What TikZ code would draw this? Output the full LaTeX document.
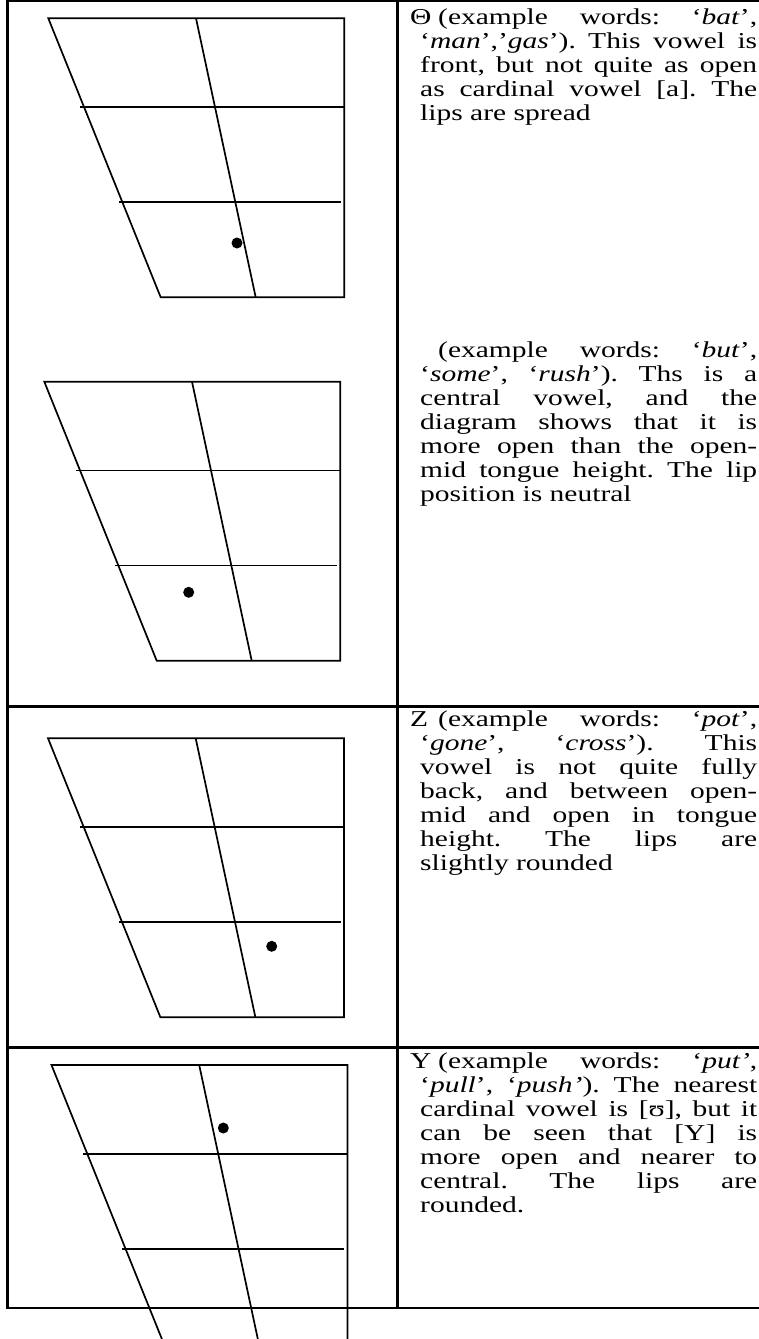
\documentclass[tikz,border=0pt]{standalone}
\usepackage{fontspec}
\setmainfont{Liberation Serif}[FakeStretch=1.3]
\frenchspacing
\newcommand\jl[1]{\makebox[337pt][s]{#1}}
\newcommand\jf[1]{\makebox[319pt][s]{#1}}
\tikzset{
  frame/.style={line width=2.6pt},
  grid/.style={line width=1.7pt},
  vdot/.style={circle, fill=black, draw=none, inner sep=0pt, minimum size=11pt},
  tl/.style={anchor=base west, inner sep=0pt, font=\fontsize{22.7}{24}\selectfont},
  quad/.pic={
    \draw[grid] (0,0) -- (296,0) -- (296,279) -- (112.4,279) -- cycle;
    \draw[grid] (147.7,0) -- (207.4,279);
    \draw[grid] (31.7,88.7) -- (296,88.7);
    \draw[grid] (70.7,183.7) -- (292.7,183.7);
  }
}
\begin{document}
\begin{tikzpicture}[x=1pt,y=-1pt]
\useasboundingbox (0,0) rectangle (759,1339);
\clip (0,0) rectangle (759,1339);

% table rules
\draw[frame] (7.5,1) -- (780,1);
\draw[frame] (7.5,706.7) -- (780,706.7);
\draw[frame] (7.5,1047.7) -- (780,1047.7);
\draw[frame] (7.5,1308) -- (780,1308);
\draw[frame] (7.5,-1) -- (7.5,1309.3);
\draw[frame] (397.5,-1) -- (397.5,1309.3);

% vowel quadrilaterals
\pic at (48.3,18.3) {quad};
\pic at (44.3,381.7) {quad};
\pic at (48,738.3) {quad};
\pic at (51.5,1065) {quad};

% vowel positions
\node[vdot] (ae) at (237,243) {};
\node[vdot] (wedge) at (188.7,592.3) {};
\node[vdot] (openo) at (271.7,946.3) {};
\node[vdot] (upsilon) at (223.3,1128) {};

% descriptions
\node[tl] (s1) at (410,24) {Θ};
\node[tl] (t1a) at (438,24) {\jf{(example words: ‘\textit{bat}’,}};
\node[tl] (t1b) at (420,48) {\jl{‘\textit{man}’,’\textit{gas}’). This vowel is}};
\node[tl] (t1c) at (420,72) {\jl{front, but not quite as open}};
\node[tl] (t1d) at (420,96) {\jl{as cardinal vowel [a]. The}};
\node[tl] (t1e) at (420,120) {lips are spread};

\node[tl] (t2a) at (438,357) {\jf{(example words: ‘\textit{but}’,}};
\node[tl] (t2b) at (420,381) {\jl{‘\textit{some}’, ‘\textit{rush}’). Ths is a}};
\node[tl] (t2c) at (420,405) {\jl{central vowel, and the}};
\node[tl] (t2d) at (420,429) {\jl{diagram shows that it is}};
\node[tl] (t2e) at (420,453) {\jl{more open than the open-}};
\node[tl] (t2f) at (420,477) {\jl{mid tongue height. The lip}};
\node[tl] (t2g) at (420,501) {position is neutral};

\node[tl] (s3) at (410,726) {Z};
\node[tl] (t3a) at (438,726) {\jf{(example words: ‘\textit{pot}’,}};
\node[tl] (t3b) at (420,750) {\jl{‘\textit{gone}’, ‘\textit{cross}’). This}};
\node[tl] (t3c) at (420,774) {\jl{vowel is not quite fully}};
\node[tl] (t3d) at (420,798) {\jl{back, and between open-}};
\node[tl] (t3e) at (420,822) {\jl{mid and open in tongue}};
\node[tl] (t3f) at (420,846) {\jl{height. The lips are}};
\node[tl] (t3g) at (420,870) {slightly rounded};

\node[tl] (s4) at (410,1068) {Y};
\node[tl] (t4a) at (438,1068) {\jf{(example words: ‘\textit{put’},}};
\node[tl] (t4b) at (420,1092) {\jl{‘\textit{pull}’, ‘\textit{push’}). The nearest}};
\node[tl] (t4c) at (420,1116) {\jl{cardinal vowel is [ʊ], but it}};
\node[tl] (t4d) at (420,1140) {\jl{can be seen that [Y] is}};
\node[tl] (t4e) at (420,1164) {\jl{more open and nearer to}};
\node[tl] (t4f) at (420,1188) {\jl{central. The lips are}};
\node[tl] (t4g) at (420,1212) {rounded.};
\end{tikzpicture}
\end{document}
